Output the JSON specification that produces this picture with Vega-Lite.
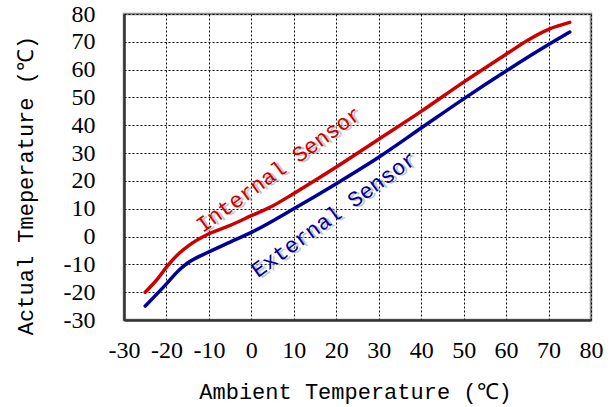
{
  "$schema": "https://vega.github.io/schema/vega-lite/v6.json",
  "autosize": {"type": "none"},
  "width": 467,
  "height": 306,
  "padding": {"left": 124, "top": 14, "right": 21, "bottom": 87},
  "background": "white",
  "config": {
    "view": {"stroke": "#8c8c8c", "strokeWidth": 2.5},
    "axis": {"labelFont": "Liberation Serif", "labelFontSize": 24, "titleFont": "Liberation Mono", "titleFontSize": 22}
  },
  "datasets": {
    "curves": [
      {"series": "Internal Sensor", "x": -25, "y": -20},
      {"series": "Internal Sensor", "x": -22, "y": -15},
      {"series": "Internal Sensor", "x": -20, "y": -11},
      {"series": "Internal Sensor", "x": -17, "y": -6},
      {"series": "Internal Sensor", "x": -15, "y": -3.5},
      {"series": "Internal Sensor", "x": -10, "y": 1},
      {"series": "Internal Sensor", "x": -5, "y": 4},
      {"series": "Internal Sensor", "x": 0, "y": 7.5},
      {"series": "Internal Sensor", "x": 5, "y": 11},
      {"series": "Internal Sensor", "x": 10, "y": 15.5},
      {"series": "Internal Sensor", "x": 20, "y": 25},
      {"series": "Internal Sensor", "x": 30, "y": 35},
      {"series": "Internal Sensor", "x": 40, "y": 45},
      {"series": "Internal Sensor", "x": 50, "y": 55.5},
      {"series": "Internal Sensor", "x": 60, "y": 65.5},
      {"series": "Internal Sensor", "x": 65, "y": 70.5},
      {"series": "Internal Sensor", "x": 70, "y": 74.5},
      {"series": "Internal Sensor", "x": 75, "y": 77},
      {"series": "External Sensor", "x": -25, "y": -25},
      {"series": "External Sensor", "x": -20, "y": -17},
      {"series": "External Sensor", "x": -17, "y": -12},
      {"series": "External Sensor", "x": -15, "y": -9.5},
      {"series": "External Sensor", "x": -10, "y": -5.5},
      {"series": "External Sensor", "x": -5, "y": -2},
      {"series": "External Sensor", "x": 0, "y": 1.5},
      {"series": "External Sensor", "x": 10, "y": 10},
      {"series": "External Sensor", "x": 20, "y": 19},
      {"series": "External Sensor", "x": 30, "y": 28.5},
      {"series": "External Sensor", "x": 40, "y": 39},
      {"series": "External Sensor", "x": 50, "y": 49.5},
      {"series": "External Sensor", "x": 60, "y": 59.5},
      {"series": "External Sensor", "x": 70, "y": 69},
      {"series": "External Sensor", "x": 75, "y": 73.5}
    ],
    "labels": [
      {"series": "Internal Sensor", "x": 7.4, "y": 22.1},
      {"series": "External Sensor", "x": 20.4, "y": 5.9}
    ]
  },
  "encoding": {
    "x": {
      "field": "x", "type": "quantitative",
      "scale": {"domain": [-30, 80], "nice": false},
      "axis": {
        "values": [-30, -20, -10, 0, 10, 20, 30, 40, 50, 60, 70, 80],
        "labelExpr": "replace(datum.label, '−', '-')",
        "labelFont": "Liberation Serif",
        "labelFontSize": 24,
        "labelColor": "black",
        "labelOverlap": false,
        "labelFlush": false,
        "labelPadding": 18,
        "tickSize": 0,
        "domainColor": "#333333",
        "domainWidth": 2.5,
        "grid": true,
        "gridColor": "black",
        "gridDash": [2, 2],
        "gridWidth": 1,
        "gridOpacity": 1,
        "title": "Ambient Temperature (℃)",
        "titleFont": "Liberation Mono",
        "titleFontSize": 22,
        "titleFontWeight": "normal",
        "titleColor": "black",
        "titleX": 231,
        "titleY": 71,
        "titleBaseline": "middle",
        "titleAnchor": "middle"
      }
    },
    "y": {
      "field": "y", "type": "quantitative",
      "scale": {"domain": [-30, 80], "nice": false},
      "axis": {
        "values": [-30, -20, -10, 0, 10, 20, 30, 40, 50, 60, 70, 80],
        "labelExpr": "replace(datum.label, '−', '-')",
        "labelFont": "Liberation Serif",
        "labelFontSize": 24,
        "labelColor": "black",
        "labelOverlap": false,
        "labelFlush": false,
        "labelPadding": 29,
        "tickSize": 0,
        "domainColor": "#333333",
        "domainWidth": 2.5,
        "grid": true,
        "gridColor": "black",
        "gridDash": [2, 2],
        "gridWidth": 1,
        "gridOpacity": 1,
        "title": "Actual Tmeperature (℃)",
        "titleFont": "Liberation Mono",
        "titleFontSize": 22,
        "titleFontWeight": "normal",
        "titleColor": "black",
        "titleX": -99,
        "titleY": 171,
        "titleBaseline": "middle",
        "titleAnchor": "middle"
      }
    }
  },
  "layer": [
    {
      "data": {"name": "curves"},
      "mark": {"type": "line", "strokeWidth": 3.5, "interpolate": "monotone", "strokeCap": "round"},
      "encoding": {
        "color": {
          "field": "series", "type": "nominal",
          "scale": {"domain": ["Internal Sensor", "External Sensor"], "range": ["#cc0000", "#000099"]},
          "legend": null
        }
      }
    },
    {
      "data": {"name": "labels"},
      "mark": {"type": "text", "font": "Liberation Mono", "fontSize": 22, "angle": 324, "align": "center", "baseline": "alphabetic", "dx": 2, "dy": 2.5, "color": "#9a9a9a", "opacity": 0.55},
      "encoding": {
        "text": {"field": "series"}
      }
    },
    {
      "data": {"name": "labels"},
      "mark": {"type": "text", "font": "Liberation Mono", "fontSize": 22, "angle": 324, "align": "center", "baseline": "alphabetic"},
      "encoding": {
        "text": {"field": "series"},
        "color": {"field": "series", "type": "nominal"}
      }
    }
  ]
}
